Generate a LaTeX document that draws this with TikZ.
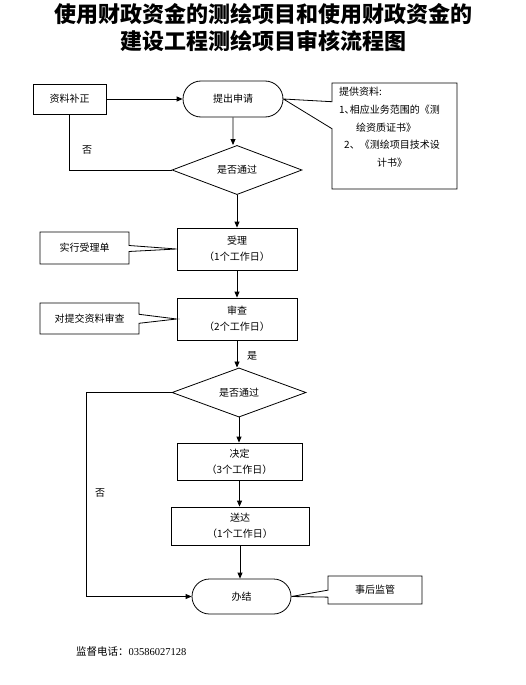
\documentclass[tikz,border=0pt]{standalone}
\usepackage{fontspec}
\setmainfont{Liberation Serif}
\newfontfamily\cjk{Noto Sans CJK SC}
\usetikzlibrary{arrows.meta,positioning,shapes.geometric,shapes.misc,shapes.callouts}

\tikzset{
  flowbox/.style={draw, line width=0.8pt, align=center, inner sep=0pt,
    font=\cjk\fontsize{10}{16}\selectfont},
  endbox/.style={flowbox, rounded rectangle},
  judge/.style={flowbox, diamond},
  note/.style={flowbox, rectangle callout},
  label/.style={font=\cjk\fontsize{10}{12}\selectfont, inner sep=0pt},
  arr/.style={-{Triangle[length=6pt,width=5pt]}, line width=0.8pt},
  link/.style={line width=0.8pt}
}

\begin{document}
\begin{tikzpicture}[x=1pt, y=-1pt]
  \useasboundingbox (0,0) rectangle (526,685);

  % Title
  \node[align=center, font=\cjk\bfseries\fontsize{22}{27}\selectfont] (title) at (263,28)
    {使用财政资金的测绘项目和使用财政资金的\\建设工程测绘项目审核流程图};

  % Main flow
  \node[flowbox, minimum width=73, minimum height=30] (bz) at (69.5,99) {资料补正};
  \node[endbox, minimum width=100, minimum height=36] (sq) at (233,99) {提出申请};
  \node[judge, minimum width=130, minimum height=46] (pd1) at (237,170) {是否通过};
  \node[flowbox, minimum width=120, minimum height=42] (sl) at (237,249) {受理\\（1个工作日）};
  \node[flowbox, minimum width=120, minimum height=42] (sc) at (237,319) {审查\\（2个工作日）};
  \node[judge, minimum width=134, minimum height=47] (pd2) at (239,392.5) {是否通过};
  \node[flowbox, minimum width=125, minimum height=37] (jd) at (239.5,461.5) {决定\\（3个工作日）};
  \node[flowbox, minimum width=138, minimum height=38] (sd) at (240,526) {送达\\（1个工作日）};
  \node[endbox, minimum width=99, minimum height=35] (bj) at (241.5,596.5) {办结};

  \draw[arr] (bz) -- (sq);
  \draw[arr] (sq) -- (sq |- pd1.north);
  \draw[arr] (pd1) -- (pd1 |- sl.north);
  \draw[arr] (sl) -- (sl |- sc.north);
  \draw[arr] (sc) -- (sc |- pd2.north);
  \draw[arr] (pd2) -- (pd2 |- jd.north);
  \draw[arr] (jd) -- (jd |- sd.north);
  \draw[arr] (sd) -- (sd |- bj.north);

  % Loop backs
  \draw[link] (pd1.west) -| (bz.south);
  \node[label] (no1) at (87,150) {否};
  \coordinate (turn2) at (86,392.5);
  \draw[arr] (pd2.west) -- (turn2) |- (bj.west);
  \node[label] (no2) at (100,493) {否};
  \node[label] (yes2) at (252,356) {是};

  % Notes
  \node[note, minimum width=125, minimum height=106, callout pointer width=27pt,
    callout absolute pointer={(sq.east)}] (tgzl) at (394.5,136) {};
  \node[anchor=north west, align=left, inner sep=0pt,
    font=\cjk\fontsize{10}{17.75}\selectfont] (tgzltext) at (339,87)
    {提供资料:\\1､相应业务范围的《测\\\hspace*{17pt}绘资质证书》\\
     \hspace*{5pt}2、《测绘项目技术设\\\hspace*{38pt}计书》};
  \node[note, minimum width=89, minimum height=32, callout pointer width=6pt,
    callout absolute pointer={(sl.west)}] (sxsl) at (84.5,248) {实行受理单};
  \node[note, minimum width=99, minimum height=31, callout pointer width=9pt,
    callout absolute pointer={(sc.west)}] (dtj) at (89.5,318.5) {对提交资料审查};
  \node[note, minimum width=94, minimum height=28, callout pointer width=7pt,
    callout absolute pointer={(bj.east)}] (shjg) at (375,590) {事后监管};

  % Footer
  \node[anchor=west, inner sep=0pt, font=\fontsize{10.5}{12}\selectfont] (tel) at (76,651)
    {{\cjk 监督电话：}03586027128};
\end{tikzpicture}
\end{document}
